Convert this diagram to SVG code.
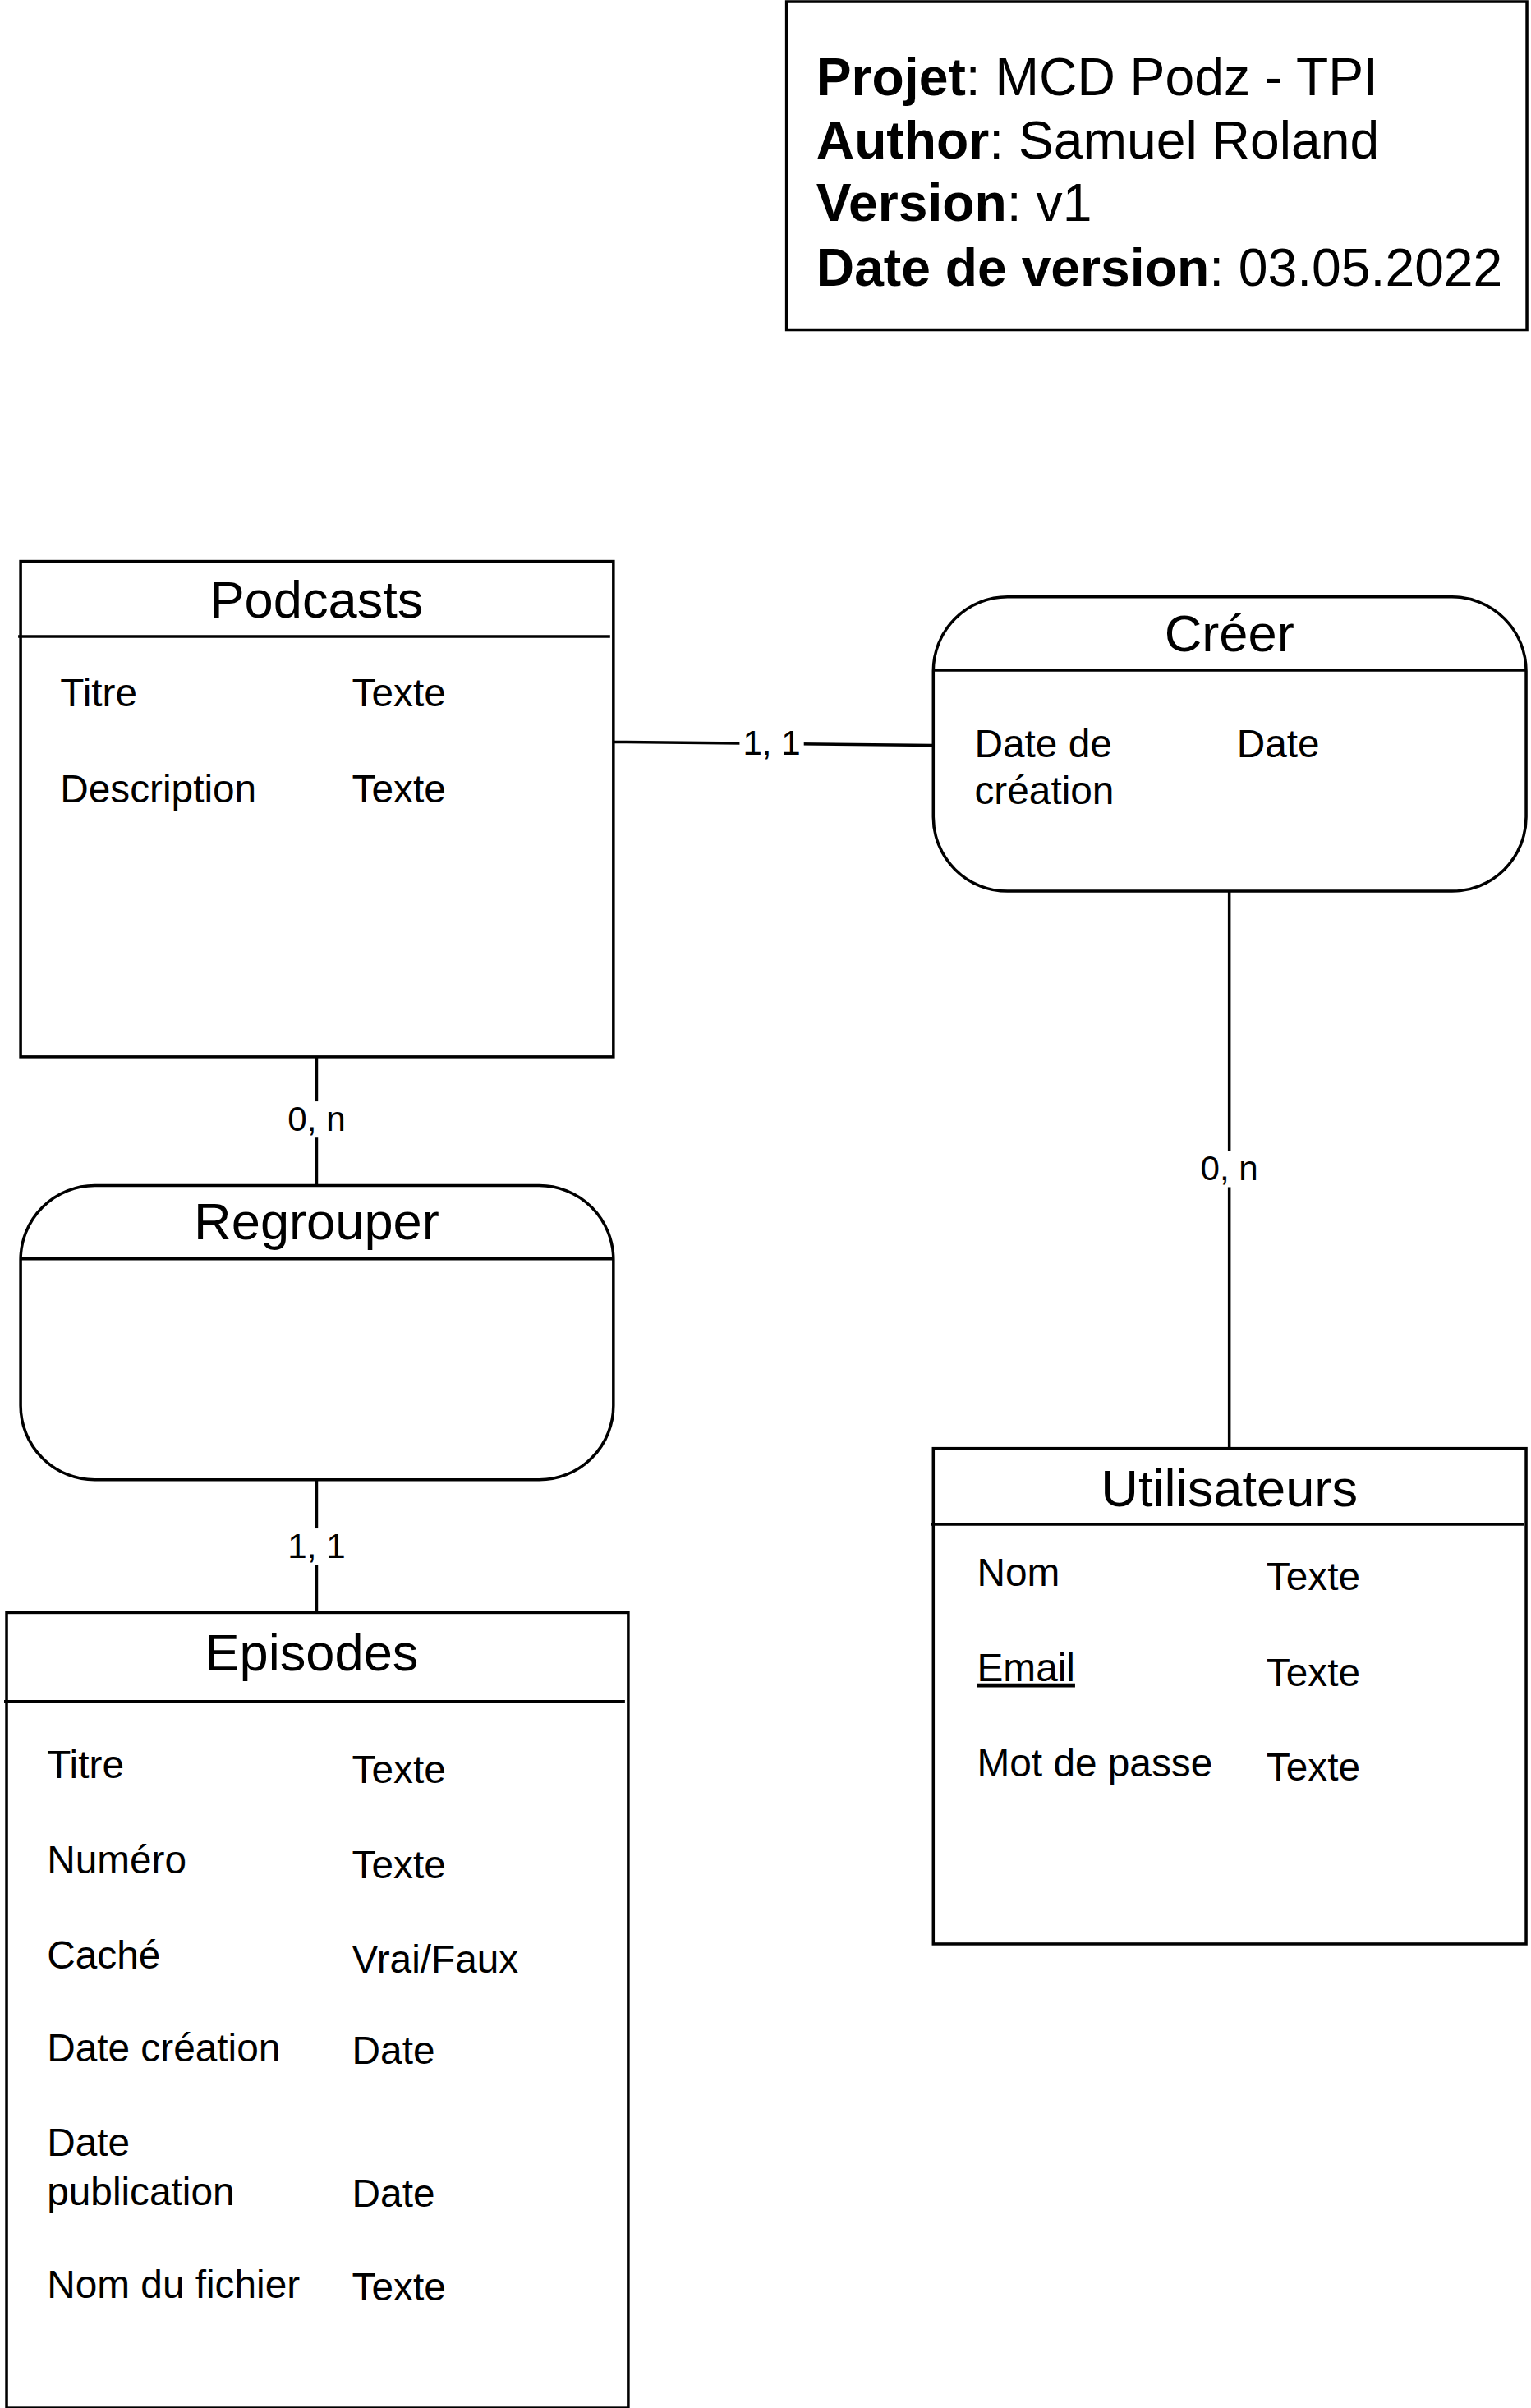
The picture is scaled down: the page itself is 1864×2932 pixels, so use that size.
<svg xmlns="http://www.w3.org/2000/svg" width="1864" height="2932" viewBox="0 0 1864 2932">
<style>
text{font-family:"Liberation Sans",Arial,sans-serif;fill:#000}
.box{fill:#fff;stroke:#000;stroke-width:3.5}
.sep{stroke:#000;stroke-width:3.5}
.title{font-size:63px;text-anchor:middle}
.attr{font-size:47.6px}
.info{font-size:64px}
.lbl{font-size:42px;text-anchor:middle}
.conn{stroke:#000;stroke-width:3.5;fill:none}
.bg{fill:#fff}
</style>
<rect width="1864" height="2932" fill="#fff"/>
<g transform="scale(1.0038)">
<g id="info">
<rect class="box" x="954" y="2" width="898" height="398"/>
<text class="info" x="990" y="116"><tspan font-weight="bold">Projet</tspan>: MCD Podz - TPI</text>
<text class="info" x="990" y="192"><tspan font-weight="bold">Author</tspan>: Samuel Roland</text>
<text class="info" x="990" y="268"><tspan font-weight="bold">Version</tspan>: v1</text>
<text class="info" x="990" y="347"><tspan font-weight="bold">Date de version</tspan>: 03.05.2022</text>
</g>
<g id="connectors">
<line class="conn" x1="744" y1="900" x2="1131" y2="904"/>
<line class="conn" x1="384" y1="1283" x2="384" y2="1437"/>
<line class="conn" x1="1491" y1="1081" x2="1491" y2="1756"/>
<line class="conn" x1="384" y1="1795" x2="384" y2="1955"/>
<rect class="bg" x="897" y="880" width="78" height="42"/>
<text class="lbl" x="936" y="916">1, 1</text>
<rect class="bg" x="346" y="1336" width="76" height="44"/>
<text class="lbl" x="384" y="1372">0, n</text>
<rect class="bg" x="1453" y="1396" width="76" height="44"/>
<text class="lbl" x="1491" y="1432">0, n</text>
<rect class="bg" x="346" y="1854" width="76" height="44"/>
<text class="lbl" x="384" y="1890">1, 1</text>
</g>
<g id="podcasts">
<rect class="box" x="25" y="681" width="719" height="601"/>
<line class="sep" x1="22" y1="772" x2="740" y2="772"/>
<text class="title" x="384" y="749">Podcasts</text>
<text class="attr" x="73" y="857">Titre</text>
<text class="attr" x="427" y="857">Texte</text>
<text class="attr" x="73" y="973">Description</text>
<text class="attr" x="427" y="973">Texte</text>
</g>
<g id="creer">
<rect class="box" x="1132" y="724" width="719" height="357" rx="90" ry="90"/>
<line class="sep" x1="1132" y1="813" x2="1851" y2="813"/>
<text class="title" x="1491" y="790">Créer</text>
<text class="attr" x="1182" y="919">Date de</text>
<text class="attr" x="1182" y="975">création</text>
<text class="attr" x="1500" y="919">Date</text>
</g>
<g id="regrouper">
<rect class="box" x="25" y="1438" width="719" height="357" rx="90" ry="90"/>
<line class="sep" x1="25" y1="1527" x2="744" y2="1527"/>
<text class="title" x="384" y="1503">Regrouper</text>
</g>
<g id="episodes">
<rect class="box" x="8" y="1956" width="754" height="965"/>
<line class="sep" x1="5" y1="2064" x2="758" y2="2064"/>
<text class="title" x="378" y="2026">Episodes</text>
<text class="attr" x="57" y="2157">Titre</text>
<text class="attr" x="427" y="2163">Texte</text>
<text class="attr" x="57" y="2272">Numéro</text>
<text class="attr" x="427" y="2278">Texte</text>
<text class="attr" x="57" y="2388">Caché</text>
<text class="attr" x="427" y="2393">Vrai/Faux</text>
<text class="attr" x="57" y="2500">Date création</text>
<text class="attr" x="427" y="2503">Date</text>
<text class="attr" x="57" y="2615">Date</text>
<text class="attr" x="57" y="2675">publication</text>
<text class="attr" x="427" y="2677">Date</text>
<text class="attr" x="57" y="2787">Nom du fichier</text>
<text class="attr" x="427" y="2790">Texte</text>
</g>
<g id="utilisateurs">
<rect class="box" x="1132" y="1757" width="719" height="601"/>
<line class="sep" x1="1129" y1="1849" x2="1848" y2="1849"/>
<text class="title" x="1491" y="1827">Utilisateurs</text>
<text class="attr" x="1185" y="1924">Nom</text>
<text class="attr" x="1536" y="1929">Texte</text>
<text class="attr" x="1185" y="2039" text-decoration="underline">Email</text>
<text class="attr" x="1536" y="2045">Texte</text>
<text class="attr" x="1185" y="2155">Mot de passe</text>
<text class="attr" x="1536" y="2160">Texte</text>
</g>
</g>
</svg>
